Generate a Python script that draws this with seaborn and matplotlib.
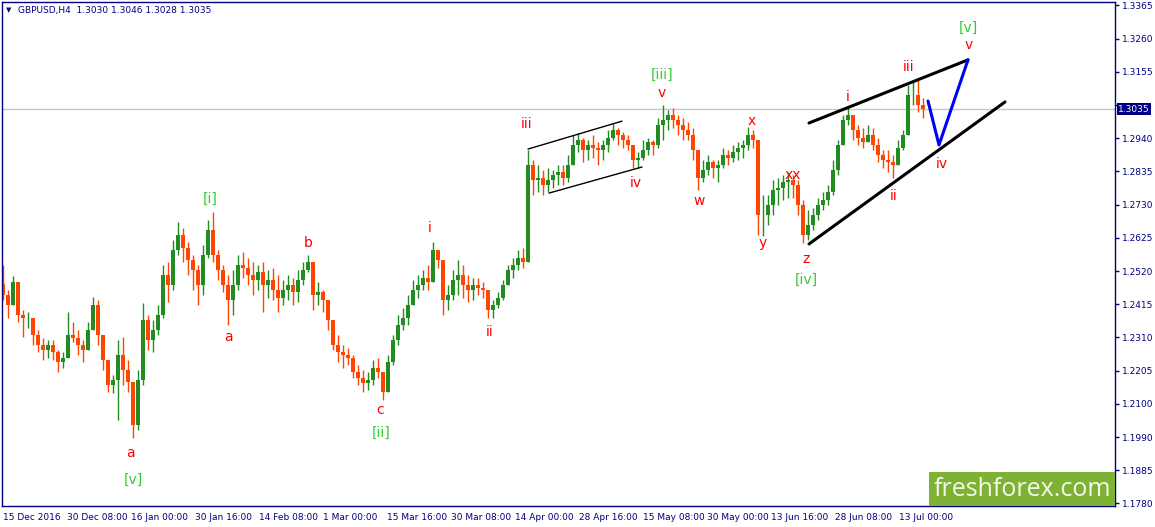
import numpy as np
import pandas as pd
import matplotlib
matplotlib.use('Agg')
import matplotlib.pyplot as plt
from matplotlib.patches import Rectangle
import seaborn as sns

# GBPUSD H4, each candle below stands for ~5 bars of the terminal screen
first_open = 1.2480
highs = [1.2539, 1.2460, 1.2504, 1.2475, 1.2396, 1.2389, 1.2370, 1.2332, 1.2307, 1.2300,
         1.2300, 1.2269, 1.2262, 1.2389, 1.2358, 1.2332, 1.2300, 1.2358, 1.2437, 1.2428,
         1.2316, 1.2237, 1.2189, 1.2300, 1.2310, 1.2237, 1.2094, 1.2205, 1.2418, 1.2380,
         1.2364, 1.2412, 1.2539, 1.2549, 1.2619, 1.2676, 1.2657, 1.2612, 1.2571, 1.2539,
         1.2603, 1.2682, 1.2708, 1.2587, 1.2539, 1.2507, 1.2523, 1.2571, 1.2580, 1.2561,
         1.2549, 1.2539, 1.2549, 1.2523, 1.2530, 1.2507, 1.2491, 1.2507, 1.2498, 1.2523,
         1.2549, 1.2571, 1.2539, 1.2485, 1.2460, 1.2412, 1.2332, 1.2316, 1.2284, 1.2275,
         1.2253, 1.2221, 1.2205, 1.2198, 1.2237, 1.2243, 1.2189, 1.2253, 1.2316, 1.2380,
         1.2402, 1.2444, 1.2491, 1.2507, 1.2523, 1.2539, 1.2612, 1.2587, 1.2539, 1.2475,
         1.2523, 1.2555, 1.2539, 1.2507, 1.2498, 1.2498, 1.2485, 1.2444, 1.2428, 1.2453,
         1.2491, 1.2539, 1.2561, 1.2587, 1.2593, 1.2905, 1.2873, 1.2857, 1.2841, 1.2848,
         1.2841, 1.2857, 1.2857, 1.2889, 1.2953, 1.2959, 1.2943, 1.2937, 1.2953, 1.2931,
         1.2937, 1.2969, 1.2991, 1.2975, 1.2962, 1.2953, 1.2905, 1.2899, 1.2937, 1.2943,
         1.2937, 1.3007, 1.3048, 1.3032, 1.3039, 1.3016, 1.3007, 1.2994, 1.2975, 1.2905,
         1.2873, 1.2889, 1.2873, 1.2873, 1.2911, 1.2905, 1.2921, 1.2931, 1.2937, 1.2978,
         1.2969, 1.2832, 1.2762, 1.2762, 1.2810, 1.2816, 1.2826, 1.2835, 1.2826, 1.2810,
         1.2746, 1.2714, 1.2721, 1.2752, 1.2772, 1.2794, 1.2873, 1.2937, 1.3016, 1.3039,
         1.3016, 1.2985, 1.2975, 1.2985, 1.2975, 1.2943, 1.2905, 1.2905, 1.2889, 1.2937,
         1.2969, 1.3112, 1.3128, 1.3134, 1.3071]
lows = [1.2428, 1.2370, 1.2428, 1.2358, 1.2310, 1.2339, 1.2284, 1.2262, 1.2237, 1.2243,
        1.2237, 1.2198, 1.2211, 1.2269, 1.2294, 1.2253, 1.2230, 1.2275, 1.2332, 1.2284,
        1.2205, 1.2135, 1.2132, 1.2046, 1.2157, 1.2135, 1.1988, 1.2014, 1.2157, 1.2269,
        1.2262, 1.2316, 1.2370, 1.2421, 1.2460, 1.2571, 1.2549, 1.2507, 1.2460, 1.2412,
        1.2444, 1.2561, 1.2549, 1.2491, 1.2453, 1.2348, 1.2380, 1.2460, 1.2498, 1.2475,
        1.2444, 1.2460, 1.2389, 1.2434, 1.2428, 1.2389, 1.2412, 1.2428, 1.2412, 1.2421,
        1.2475, 1.2517, 1.2396, 1.2412, 1.2389, 1.2332, 1.2269, 1.2230, 1.2211, 1.2221,
        1.2179, 1.2157, 1.2135, 1.2141, 1.2157, 1.2179, 1.2109, 1.2141, 1.2221, 1.2284,
        1.2332, 1.2348, 1.2421, 1.2434, 1.2460, 1.2460, 1.2517, 1.2530, 1.2380, 1.2396,
        1.2428, 1.2444, 1.2434, 1.2421, 1.2428, 1.2444, 1.2434, 1.2370, 1.2370, 1.2402,
        1.2428, 1.2475, 1.2498, 1.2523, 1.2530, 1.2549, 1.2762, 1.2772, 1.2762, 1.2772,
        1.2784, 1.2794, 1.2794, 1.2803, 1.2873, 1.2899, 1.2867, 1.2873, 1.2880, 1.2857,
        1.2873, 1.2899, 1.2937, 1.2921, 1.2911, 1.2905, 1.2848, 1.2848, 1.2873, 1.2889,
        1.2889, 1.2911, 1.2937, 1.2969, 1.2975, 1.2953, 1.2937, 1.2937, 1.2873, 1.2778,
        1.2803, 1.2826, 1.2816, 1.2803, 1.2848, 1.2857, 1.2867, 1.2873, 1.2880, 1.2905,
        1.2911, 1.2635, 1.2631, 1.2666, 1.2698, 1.2730, 1.2746, 1.2752, 1.2752, 1.2698,
        1.2609, 1.2619, 1.2650, 1.2682, 1.2714, 1.2730, 1.2762, 1.2826, 1.2921, 1.2985,
        1.2937, 1.2921, 1.2911, 1.2931, 1.2905, 1.2867, 1.2848, 1.2835, 1.2816, 1.2867,
        1.2905, 1.2953, 1.3048, 1.3026, 1.3007]
closes = [1.2444, 1.2412, 1.2485, 1.2380, 1.2370, 1.2370, 1.2316, 1.2284, 1.2269, 1.2284,
          1.2262, 1.2230, 1.2243, 1.2316, 1.2307, 1.2284, 1.2269, 1.2332, 1.2412, 1.2316,
          1.2237, 1.2157, 1.2173, 1.2253, 1.2205, 1.2167, 1.2030, 1.2173, 1.2364, 1.2300,
          1.2332, 1.2380, 1.2507, 1.2475, 1.2587, 1.2635, 1.2593, 1.2555, 1.2523, 1.2475,
          1.2571, 1.2650, 1.2571, 1.2523, 1.2475, 1.2428, 1.2475, 1.2539, 1.2530, 1.2507,
          1.2491, 1.2517, 1.2475, 1.2491, 1.2460, 1.2434, 1.2460, 1.2475, 1.2453, 1.2491,
          1.2523, 1.2549, 1.2444, 1.2453, 1.2428, 1.2364, 1.2284, 1.2262, 1.2253, 1.2243,
          1.2198, 1.2179, 1.2163, 1.2173, 1.2211, 1.2198, 1.2135, 1.2230, 1.2300, 1.2348,
          1.2370, 1.2412, 1.2460, 1.2475, 1.2498, 1.2485, 1.2587, 1.2555, 1.2428, 1.2444,
          1.2491, 1.2507, 1.2475, 1.2460, 1.2475, 1.2466, 1.2460, 1.2396, 1.2412, 1.2434,
          1.2475, 1.2523, 1.2539, 1.2561, 1.2549, 1.2857, 1.2810, 1.2816, 1.2794, 1.2810,
          1.2826, 1.2835, 1.2816, 1.2857, 1.2921, 1.2937, 1.2905, 1.2921, 1.2911, 1.2905,
          1.2921, 1.2943, 1.2969, 1.2953, 1.2937, 1.2921, 1.2873, 1.2880, 1.2905, 1.2931,
          1.2921, 1.2985, 1.3001, 1.3016, 1.3001, 1.2985, 1.2969, 1.2953, 1.2905, 1.2816,
          1.2841, 1.2867, 1.2848, 1.2857, 1.2889, 1.2880, 1.2899, 1.2911, 1.2921, 1.2953,
          1.2937, 1.2698, 1.2698, 1.2730, 1.2778, 1.2784, 1.2803, 1.2810, 1.2794, 1.2730,
          1.2635, 1.2666, 1.2698, 1.2730, 1.2746, 1.2772, 1.2841, 1.2921, 1.3001, 1.3016,
          1.2969, 1.2943, 1.2931, 1.2953, 1.2921, 1.2889, 1.2873, 1.2867, 1.2857, 1.2911,
          1.2953, 1.3080, 1.3080, 1.3048, 1.3035]

time_labels = ['15 Dec 2016', '30 Dec 08:00', '16 Jan 00:00', '30 Jan 16:00', '14 Feb 08:00',
               '1 Mar 00:00', '15 Mar 16:00', '30 Mar 08:00', '14 Apr 00:00', '28 Apr 16:00',
               '15 May 08:00', '30 May 00:00', '13 Jun 16:00', '28 Jun 08:00', '13 Jul 00:00']
price_labels = ['1.3365', '1.3260', '1.3155', '1.3045', '1.2940', '1.2835', '1.2730', '1.2625',
                '1.2520', '1.2415', '1.2310', '1.2205', '1.2100', '1.1990', '1.1885', '1.1780']
price_top, price_bottom = 1.3365, 1.1780
last_price = 1.3035
title = 'GBPUSD,H4  1.3030 1.3046 1.3028 1.3035'

# wave marks: (text, candle, price)
red_marks = [('a', 25.4, 1.1941), ('a', 45.0, 1.2310), ('b', 61.0, 1.2609), ('c', 75.4, 1.2078),
             ('i', 85.4, 1.2657), ('ii', 97.4, 1.2326), ('iii', 104.8, 1.2988), ('iv', 126.6, 1.2800),
             ('v', 131.8, 1.3086), ('w', 139.2, 1.2743), ('x', 149.8, 1.2997), ('y', 152.0, 1.2609),
             ('xx', 158.0, 1.2826), ('z', 160.6, 1.2558), ('i', 169.0, 1.3074), ('ii', 178.2, 1.2759),
             ('iii', 181.2, 1.3169), ('iv', 187.8, 1.2861), ('v', 193.2, 1.3239)]
green_marks = [('[v]', 26.0, 1.1855), ('[i]', 41.4, 1.2749), ('[ii]', 75.6, 1.2004),
               ('[iii]', 131.8, 1.3144), ('[iv]', 160.6, 1.2491), ('[v]', 193.0, 1.3293)]

# drawn lines: candles and prices of their ends
thin_channel = [([105.0, 123.8], [1.2908, 1.2997]), ([109.2, 127.8], [1.2768, 1.2851])]
wedge = [([161.2, 193.0], [1.2991, 1.3192]), ([161.2, 200.4], [1.2606, 1.3058])]
forecast_x = [185.0, 187.2, 193.0]
forecast_y = [1.3061, 1.2921, 1.3192]

BARS_PER_CANDLE = 5
BARS_PER_LABEL = 64

UP = '#228B22'
DOWN = '#FF4500'
NAVY = '#000080'

sns.set_style('white')
plt.rcParams['font.family'] = ['DejaVu Sans']

df = pd.DataFrame({'high': highs, 'low': lows, 'close': closes})
df['open'] = [first_open] + closes[:-1]
df['high'] = df[['high', 'open', 'close']].max(axis=1)
df['low'] = df[['low', 'open', 'close']].min(axis=1)
colors = np.where(df['close'] >= df['open'], UP, DOWN)

W, H = 1155, 527
fig = plt.figure(figsize=(W / 100, H / 100), dpi=100)
ax = fig.add_axes([2 / W, 1 - 506 / H, 1113 / W, 504 / H])

ax.vlines(df.index, df['low'], df['high'], colors=colors, lw=1)
ax.bar(df.index, (df['close'] - df['open']).abs(), bottom=df[['open', 'close']].min(axis=1),
       width=0.8, color=colors, linewidth=0)

ax.axhline(last_price, color='#C8C8C8', lw=1, zorder=0)

for xs, ys in thin_channel:
    ax.plot(xs, ys, color='black', lw=1)
for xs, ys in wedge:
    ax.plot(xs, ys, color='black', lw=2.2)
ax.plot(forecast_x, forecast_y, color='#0000FF', lw=2.2)

for s, x, y in red_marks:
    ax.text(x, y, s, color='#FF0000', fontsize=10, ha='center', va='center')
for s, x, y in green_marks:
    ax.text(x, y, s, color='#32CD32', fontsize=10, ha='center', va='center')

# axes limits chosen so that the price scale spans the screen like the terminal
step = (price_top - price_bottom) / (len(price_labels) - 1)
px = step / 33.2
ax.set_ylim(price_bottom - 2.5 * px, price_top + 3.5 * px)
ax.set_xlim(-0.2, 222.4)

yticks = [price_top - k * step for k in range(len(price_labels))]
ax.set_yticks(yticks)
ax.set_yticklabels(price_labels)
ax.yaxis.tick_right()
ax.tick_params(axis='y', length=3, width=1, color=NAVY, labelcolor=NAVY, labelsize=6.5, pad=2)
# the price marker box sits on top of the nearest scale label, as in the terminal
for t, lbl in zip(yticks, ax.get_yticklabels()):
    if abs(t - last_price) < step / 3:
        lbl.set_visible(False)

ax.set_xticks([k * BARS_PER_LABEL / BARS_PER_CANDLE for k in range(len(time_labels))])
ax.set_xticklabels(time_labels)
ax.tick_params(axis='x', length=4, width=1, color=NAVY, labelcolor=NAVY, labelsize=6.5, pad=1)
for lbl in ax.get_xticklabels():
    lbl.set_ha('left')

for sp in ax.spines.values():
    sp.set_color(NAVY)
    sp.set_linewidth(1)

ax.text(1.003, last_price, '1.3035', transform=ax.get_yaxis_transform(), color='white',
        fontsize=6.5, va='center', ha='left',
        bbox=dict(facecolor=NAVY, edgecolor='none', boxstyle='square,pad=0.15'))

fig.text(6 / W, 1 - 10 / H, '\u25bc', fontsize=5, color=NAVY, va='center')
fig.text(18 / W, 1 - 10 / H, title, fontsize=6.5, color=NAVY, va='center')

fig.add_artist(Rectangle((929 / W, 1 - 506 / H), 186 / W, 34 / H, transform=fig.transFigure,
                         facecolor='#7DB234', edgecolor='none'))
fig.text(1022 / W, 1 - 489 / H, 'freshforex.com', fontsize=18, color='#F4F7EA',
         ha='center', va='center', family='Open Sans')

fig.savefig('out.png', dpi=100)
